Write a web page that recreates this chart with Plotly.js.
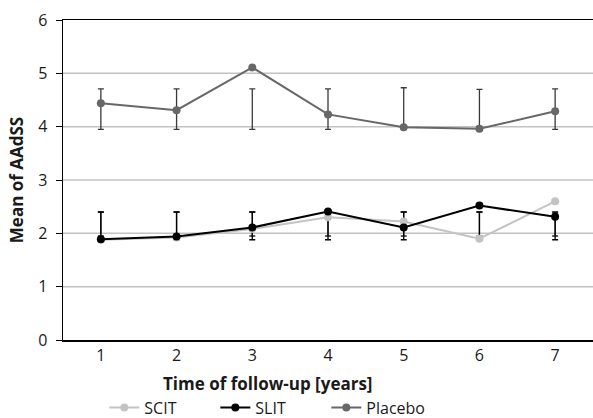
<!DOCTYPE html>
<html>
<head>
<meta charset="utf-8">
<script src="https://cdn.plot.ly/plotly-3.0.1.min.js"></script>
<style>html,body{margin:0;padding:0;background:#fff;}#chart{width:593px;height:418px;}</style>
</head>
<body>
<div id="chart"></div>
<script>
var years = [1, 2, 3, 4, 5, 6, 7];
var scit = [1.88, 1.92, 2.08, 2.30, 2.22, 1.90, 2.60];
var slit = [1.89, 1.94, 2.11, 2.41, 2.11, 2.52, 2.31];
var placebo = [4.44, 4.31, 5.11, 4.23, 3.99, 3.96, 4.29];
// error bar ends (upper / lower)
var scitHi = [2.40, 2.40, 2.40, 2.40, 2.40, 2.40, 2.38];
var scitLo = [1.95, 1.95, 1.95, 1.95, 1.95, 1.95, 1.95];
var slitHi = [2.40, 2.40, 2.40, 2.41, 2.40, 2.40, 2.40];
var slitLo = [1.88, 1.88, 1.88, 1.88, 1.88, 1.88, 1.88];
var placHi = [4.71, 4.71, 4.71, 4.71, 4.73, 4.70, 4.71];
var placLo = [3.95, 3.95, 3.95, 3.95, 3.95, 3.95, 3.95];
var yTicks = [0, 1, 2, 3, 4, 5, 6];
var gridVals = [1, 2, 3, 4, 5];

function errTrace(hi, lo, color) {
  var mid = hi.map(function (h, i) { return (h + lo[i]) / 2; });
  var half = hi.map(function (h, i) { return (h - lo[i]) / 2; });
  return {
    x: years, y: mid, type: 'scatter', mode: 'markers',
    marker: {size: 1, opacity: 0},
    showlegend: false, hoverinfo: 'skip',
    error_y: {type: 'data', array: half, visible: true, color: color, thickness: 1.3, width: 3}
  };
}

var traces = [
  errTrace(placHi, placLo, '#3a3a3a'),
  errTrace(scitHi, scitLo, '#2a2a2a'),
  errTrace(slitHi, slitLo, '#000000'),
  {x: years, y: scit, name: 'SCIT', type: 'scatter', mode: 'lines+markers',
   line: {color: '#c3c3c3', width: 2}, marker: {color: '#c3c3c3', size: 8}},
  {x: years, y: slit, name: 'SLIT', type: 'scatter', mode: 'lines+markers',
   line: {color: '#000000', width: 2}, marker: {color: '#000000', size: 8}},
  {x: years, y: placebo, name: 'Placebo', type: 'scatter', mode: 'lines+markers',
   line: {color: '#676767', width: 2}, marker: {color: '#676767', size: 8}}
];

var shapes = gridVals.map(function (v) {
  return {type: 'line', xref: 'paper', yref: 'y', x0: 0, x1: 1, y0: v, y1: v,
          line: {color: '#c2c2c2', width: 1.5}, layer: 'below'};
});

var layout = {
  width: 593, height: 418,
  margin: {l: 63, r: 0, t: 20, b: 78, autoexpand: false},
  paper_bgcolor: '#ffffff', plot_bgcolor: '#ffffff',
  font: {family: 'Open Sans, sans-serif', size: 16, color: '#1a1a1a'},
  showlegend: true,
  legend: {orientation: 'h', x: 0.078, xanchor: 'left', y: -0.211, yanchor: 'middle',
           font: {size: 16, color: '#1a1a1a'}, traceorder: 'normal',
           entrywidth: 66, entrywidthmode: 'pixels', itemwidth: 30, tracegroupgap: 0},
  xaxis: {
    range: [0.5, 7.5], tickvals: years, ticktext: years.map(String), automargin: false,
    showgrid: false, zeroline: false, showline: true, linecolor: '#000', linewidth: 1.5,
    mirror: true, ticks: '', tickfont: {size: 16}
  },
  yaxis: {
    range: [0, 6], tickvals: yTicks, showgrid: false, zeroline: false, automargin: false,
    showline: true, linecolor: '#000', linewidth: 1.5, ticklabelstandoff: 5,
    ticks: 'outside', ticklen: 6, tickcolor: '#000', tickwidth: 1, tickfont: {size: 16},
    title: {text: '<b>Mean of AAdSS</b>', font: {size: 17}, standoff: 10}
  },
  annotations: [{
    text: '<b>Time of follow-up [years]</b>', xref: 'paper', yref: 'paper',
    x: 0.387, y: -0.135, xanchor: 'center', yanchor: 'middle', showarrow: false,
    font: {size: 17, color: '#1a1a1a'}
  }],
  shapes: shapes
};

Plotly.newPlot('chart', traces, layout, {displayModeBar: false, staticPlot: true});
</script>
</body>
</html>
